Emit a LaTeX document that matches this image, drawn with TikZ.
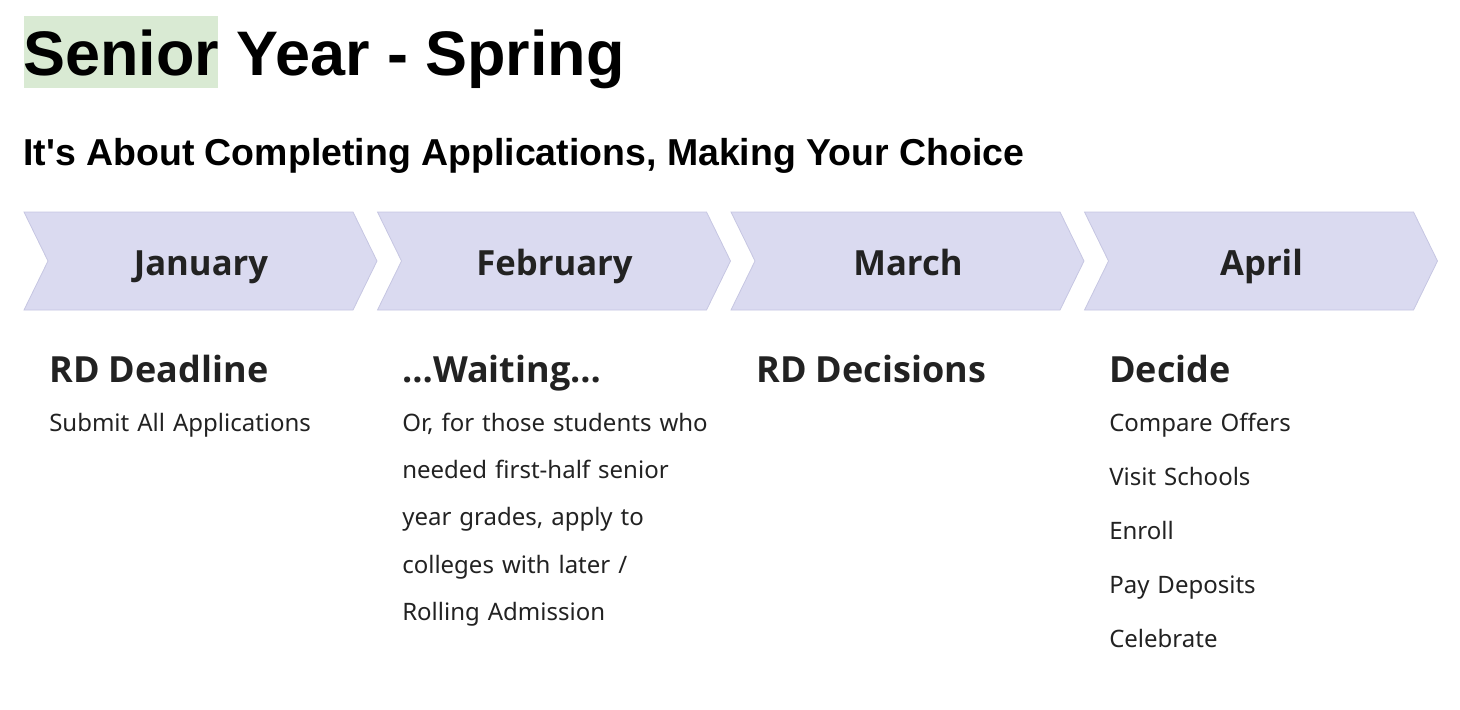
\documentclass[tikz,border=0pt]{standalone}
\usepackage{fontspec}
\setmainfont{Liberation Sans}
\newfontfamily\monthfont{Open Sans}
\newfontfamily\bodyfont{Noto Sans}
\usetikzlibrary{positioning}
\definecolor{hlgreen}{HTML}{D9EAD3}
\definecolor{chevfill}{HTML}{DADAF0}
\definecolor{chevline}{HTML}{C6C6E2}
\definecolor{inkgray}{HTML}{222222}
\tikzset{
    chevron/.style = {fill=chevfill,draw=chevline,line width=0.6pt},
    title/.style = {anchor=base west,inner sep=0pt,font=\fontsize{47.2}{50}\bfseries\selectfont},
    subtitle/.style = {anchor=base west,inner sep=0pt,font=\fontsize{28.1}{32}\bfseries\selectfont},
    month/.style = {anchor=base,inner sep=0pt,text=inkgray,font=\monthfont\fontsize{26}{30}\bfseries\selectfont},
    heading/.style = {anchor=base west,inner sep=0pt,text=inkgray,font=\monthfont\fontsize{27}{30}\bfseries\selectfont},
    bodytext/.style = {anchor=base west,inner sep=0pt,text=inkgray,align=left,text width=250pt,
        font=\bodyfont\fontsize{18}{35.6}\selectfont}
}

\begin{document}
\begin{tikzpicture}[x=0.75pt,y=-0.75pt]
\useasboundingbox (0,0) rectangle (1460,710);
%
\fill[hlgreen] (24,16) rectangle (218,88);
\node[title] (ttl) at (23,76) {Senior Year - Spring};
\node[subtitle] (sub) at (23,165) {It\textquotesingle s About Completing Applications, Making Your Choice};
%
\foreach \m [count=\i from 0] in {January,February,March,April}{
  \draw[chevron] ({24+353.5*\i},212) -- ++(329,0) -- ++(24,49) -- ++(-24,49)
      -- ++(-329,0) -- ++(24,-49) -- cycle;
  \node[month] (m\i) at ({201+353.5*\i},275) {\m};
}
%
\node[heading] (h0) at (49,382) {RD Deadline};
\node[heading] (h1) at (402,382) {\dots Waiting\dots};
\node[heading] (h2) at (756,382) {RD Decisions};
\node[heading] (h3) at (1109,382) {Decide};
%
\node[bodytext] (b0) at (49,431) {Submit All Applications};
\node[bodytext] (b1) at (402,431) {Or, for those students who\\needed first-half senior\\year grades, apply to\\colleges with later /\\Rolling Admission};
\foreach \t [count=\j from 0] in {Compare Offers,Visit Schools,Enroll,Pay Deposits,Celebrate}
  \node[bodytext] (d\j) at (1109,{431+54.2*\j}) {\t};

\end{tikzpicture}
\end{document}
